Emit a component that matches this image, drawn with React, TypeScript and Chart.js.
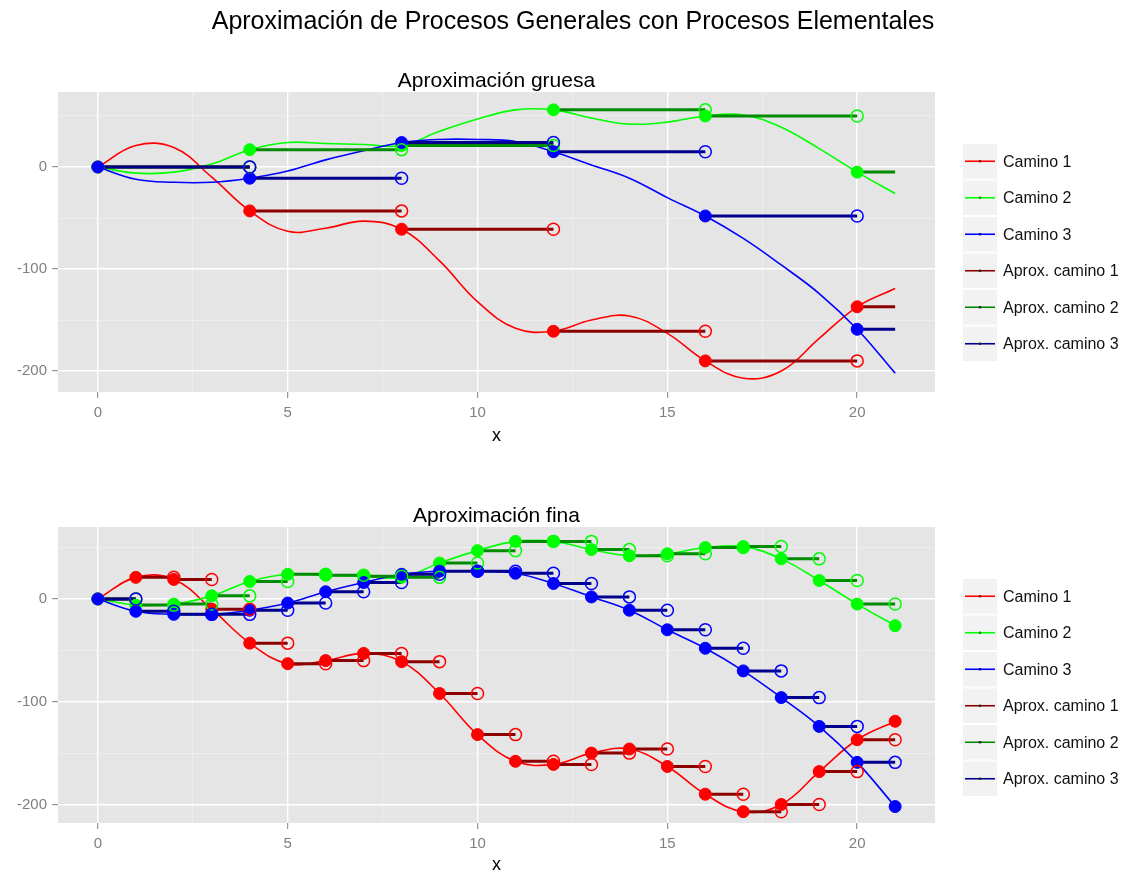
import { useEffect, useRef } from "react";
import { Chart, registerables } from "chart.js";

Chart.register(...registerables);

// ---------------- data ----------------
const TIMES = [0, 1, 2, 3, 4, 5, 6, 7, 8, 9, 10, 11, 12, 13, 14, 15, 16, 17, 18, 19, 20, 21];
const CAMINO_1 = [0, 21, 19, -10, -43, -63, -60, -53, -61, -92, -132, -158, -161, -150, -146, -163, -190, -207, -200, -168, -137, -119];
const CAMINO_2 = [0, -6, -5, 3, 17, 24, 23, 22, 21, 35, 47, 56, 56, 48, 42, 44, 50, 51, 39, 18, -5, -26];
const CAMINO_3 = [0, -12, -15, -15, -11, -4, 7, 16, 24, 27, 27, 25, 15, 2, -11, -30, -48, -70, -96, -124, -159, -202];

const SERIES_LABELS = ["Camino 1", "Camino 2", "Camino 3"];
const APPROX_LABELS = ["Aprox. camino 1", "Aprox. camino 2", "Aprox. camino 3"];
const MAIN_TITLE = "Aproximación de Procesos Generales con Procesos Elementales";
const PANEL_TITLES = ["Aproximación gruesa", "Aproximación fina"];
const X_TITLE = "x";

const COARSE_STEP = 4;
const FINE_STEP = 1;

const X_MAJOR = [0, 5, 10, 15, 20];
const X_MINOR = [2.5, 7.5, 12.5, 17.5];
const Y_MAJOR = [-200, -100, 0];
const Y_MINOR = [-150, -50, 50];

// ---------------- styles ----------------
const PATH_COLORS = ["#FF0000", "#00FF00", "#0000FF"];
const APPROX_COLORS = ["#8B0000", "#008B00", "#00008B"];
const FONT = "'Liberation Sans', Arial, Helvetica, sans-serif";
const PANEL_BG = "#E5E5E5";
const TICK_GREY = "#7F7F7F";

const PATHS = [CAMINO_1, CAMINO_2, CAMINO_3];

type Pt = { x: number; y: number | null };

function buildApprox(path: number[], step: number) {
  const last = TIMES.length - 1;
  const seg: Pt[] = [];
  const filled: Pt[] = [];
  const open: Pt[] = [];
  for (let k = 0; k < last; k += step) {
    const end = Math.min(k + step, last);
    seg.push({ x: TIMES[k], y: path[k] }, { x: TIMES[end], y: path[k] }, { x: TIMES[end], y: null });
    filled.push({ x: TIMES[k], y: path[k] });
    if (k + step <= last) open.push({ x: TIMES[k + step], y: path[k] });
  }
  if (step === FINE_STEP) filled.push({ x: TIMES[last], y: path[last] });
  return { seg, filled, open };
}

interface PanelLayout {
  padTop: number;
  xAxisHeight: number;
  subtitleBaseline: number;
  xTitleBaseline: number;
  legendTop: number;
  mainTitleBaseline?: number;
  yMin: number;
  yMax: number;
}

function buildConfig(panelTitle: string, step: number, L: PanelLayout): any {
  const datasets: any[] = [];
  // smaller order = drawn later (on top); later series on top like ggplot
  PATHS.forEach((p, i) => {
    datasets.push({
      label: SERIES_LABELS[i],
      data: TIMES.map((t, j) => ({ x: t, y: p[j] })),
      borderColor: PATH_COLORS[i],
      backgroundColor: PATH_COLORS[i],
      borderWidth: 1.6,
      pointRadius: 0,
      tension: 0.4,
      order: 30 + (2 - i),
    });
  });
  PATHS.forEach((p, i) => {
    const a = buildApprox(p, step);
    datasets.push({
      label: APPROX_LABELS[i],
      data: a.seg,
      borderColor: APPROX_COLORS[i],
      backgroundColor: APPROX_COLORS[i],
      borderWidth: 3,
      pointRadius: 0,
      tension: 0,
      spanGaps: false,
      order: 20 + (2 - i),
    });
    datasets.push({
      label: APPROX_LABELS[i] + " inicio",
      data: a.filled,
      showLine: false,
      pointRadius: 6,
      pointBackgroundColor: PATH_COLORS[i],
      pointBorderColor: PATH_COLORS[i],
      pointBorderWidth: 1,
      order: 10 + (2 - i),
    });
    datasets.push({
      label: APPROX_LABELS[i] + " fin",
      data: a.open,
      showLine: false,
      pointRadius: 6,
      pointBackgroundColor: "rgba(0,0,0,0)",
      pointBorderColor: PATH_COLORS[i],
      pointBorderWidth: 1.5,
      order: 0 + (2 - i),
    });
  });

  const legendItems = [
    ...SERIES_LABELS.map((l, i) => ({ label: l, color: PATH_COLORS[i], dot: APPROX_COLORS[i] })),
    ...APPROX_LABELS.map((l, i) => ({ label: l, color: APPROX_COLORS[i], dot: "#202020" })),
  ];

  const decorPlugin = {
    id: "decor_" + step,
    beforeDraw(chart: any) {
      const { ctx, chartArea } = chart;
      ctx.save();
      ctx.fillStyle = "#FFFFFF";
      ctx.fillRect(0, 0, chart.width, chart.height);
      ctx.fillStyle = PANEL_BG;
      ctx.fillRect(chartArea.left, chartArea.top, chartArea.right - chartArea.left, chartArea.bottom - chartArea.top);
      ctx.restore();
    },
    afterDraw(chart: any) {
      const { ctx, chartArea } = chart;
      ctx.save();
      ctx.fillStyle = "#000000";
      ctx.textAlign = "center";
      ctx.textBaseline = "alphabetic";
      if (L.mainTitleBaseline !== undefined) {
        ctx.font = `25px ${FONT}`;
        ctx.fillText(MAIN_TITLE, chart.width / 2 + 8, L.mainTitleBaseline);
      }
      const cx = (chartArea.left + chartArea.right) / 2;
      ctx.font = `21px ${FONT}`;
      ctx.fillText(panelTitle, cx, L.subtitleBaseline);
      ctx.font = `18px ${FONT}`;
      ctx.fillText(X_TITLE, cx, L.xTitleBaseline);

      // legend
      const kx = 962;
      const kw = 36;
      const rh = 36.5;
      legendItems.forEach((it, i) => {
        const top = L.legendTop + i * rh;
        ctx.fillStyle = "#F2F2F2";
        ctx.fillRect(kx, top, kw, rh);
        ctx.strokeStyle = "#FFFFFF";
        ctx.lineWidth = 1;
        ctx.strokeRect(kx + 0.5, top + 0.5, kw - 1, rh - 1);
        const cy = top + rh / 2;
        ctx.strokeStyle = it.color;
        ctx.lineWidth = 1.6;
        ctx.beginPath();
        ctx.moveTo(kx + 3, cy);
        ctx.lineTo(kx + kw - 3, cy);
        ctx.stroke();
        ctx.fillStyle = it.dot;
        ctx.beginPath();
        ctx.arc(kx + kw / 2, cy, 1.3, 0, Math.PI * 2);
        ctx.fill();
        ctx.fillStyle = "#111111";
        ctx.font = `16px ${FONT}`;
        ctx.textAlign = "left";
        ctx.textBaseline = "middle";
        ctx.fillText(it.label, kx + kw + 5, cy + 1);
      });
      ctx.restore();
    },
  };

  const isMajorX = (v: number) => X_MAJOR.includes(v);
  const isMajorY = (v: number) => Y_MAJOR.includes(v);

  return {
    type: "line",
    data: { datasets },
    plugins: [decorPlugin],
    options: {
      responsive: false,
      animation: false,
      events: [],
      devicePixelRatio: 1,
      layout: { padding: { top: L.padTop, right: 1130 - 935, bottom: 0, left: 0 } },
      plugins: { legend: { display: false }, tooltip: { enabled: false }, title: { display: false } },
      scales: {
        x: {
          type: "linear",
          min: -1.05,
          max: 22.05,
          afterBuildTicks: (axis: any) => {
            axis.ticks = [...X_MAJOR, ...X_MINOR].sort((a, b) => a - b).map((v) => ({ value: v }));
          },
          afterFit: (axis: any) => {
            axis.height = L.xAxisHeight;
          },
          border: { display: false },
          grid: {
            drawTicks: true,
            tickLength: 6,
            color: (c: any) => (isMajorX(c.tick?.value) ? "#FFFFFF" : "#F2F2F2"),
            lineWidth: (c: any) => (isMajorX(c.tick?.value) ? 1.4 : 0.7),
            tickColor: (c: any) => (isMajorX(c.tick?.value) ? TICK_GREY : "rgba(0,0,0,0)"),
            tickWidth: 1,
          },
          ticks: {
            autoSkip: false,
            maxRotation: 0,
            padding: 6,
            color: TICK_GREY,
            font: { family: FONT, size: 15 },
            callback: (v: any) => (isMajorX(Number(v)) ? String(v) : ""),
          },
        },
        y: {
          type: "linear",
          min: L.yMin,
          max: L.yMax,
          afterBuildTicks: (axis: any) => {
            axis.ticks = [...Y_MAJOR, ...Y_MINOR].sort((a, b) => a - b).map((v) => ({ value: v }));
          },
          afterFit: (axis: any) => {
            axis.width = 58;
          },
          border: { display: false },
          grid: {
            drawTicks: true,
            tickLength: 6,
            color: (c: any) => (isMajorY(c.tick?.value) ? "#FFFFFF" : "#F2F2F2"),
            lineWidth: (c: any) => (isMajorY(c.tick?.value) ? 1.4 : 0.7),
            tickColor: (c: any) => (isMajorY(c.tick?.value) ? TICK_GREY : "rgba(0,0,0,0)"),
            tickWidth: 1,
          },
          ticks: {
            autoSkip: false,
            padding: 5,
            color: TICK_GREY,
            font: { family: FONT, size: 15 },
            callback: (v: any) => (isMajorY(Number(v)) ? String(v) : ""),
          },
        },
      },
    },
  };
}

export default function App() {
  const topRef = useRef<HTMLCanvasElement>(null);
  const botRef = useRef<HTMLCanvasElement>(null);

  useEffect(() => {
    const top = new Chart(
      topRef.current as HTMLCanvasElement,
      buildConfig(PANEL_TITLES[0], COARSE_STEP, {
        padTop: 92,
        xAxisHeight: 446 - 392,
        subtitleBaseline: 87,
        xTitleBaseline: 441,
        legendTop: 143,
        mainTitleBaseline: 29,
        yMin: -220.5,
        yMax: 73.5,
      })
    );
    const bot = new Chart(
      botRef.current as HTMLCanvasElement,
      buildConfig(PANEL_TITLES[1], FINE_STEP, {
        padTop: 81,
        xAxisHeight: 430 - 377,
        subtitleBaseline: 76,
        xTitleBaseline: 424,
        legendTop: 132,
        yMin: -218,
        yMax: 70,
      })
    );
    return () => {
      top.destroy();
      bot.destroy();
    };
  }, []);

  return (
    <div style={{ position: "fixed", left: 0, top: 0, width: 1130, height: 876, background: "#FFFFFF", overflow: "hidden" }}>
      <canvas ref={topRef} width={1130} height={446} style={{ position: "absolute", left: 0, top: 0 }} />
      <canvas ref={botRef} width={1130} height={430} style={{ position: "absolute", left: 0, top: 446 }} />
    </div>
  );
}
